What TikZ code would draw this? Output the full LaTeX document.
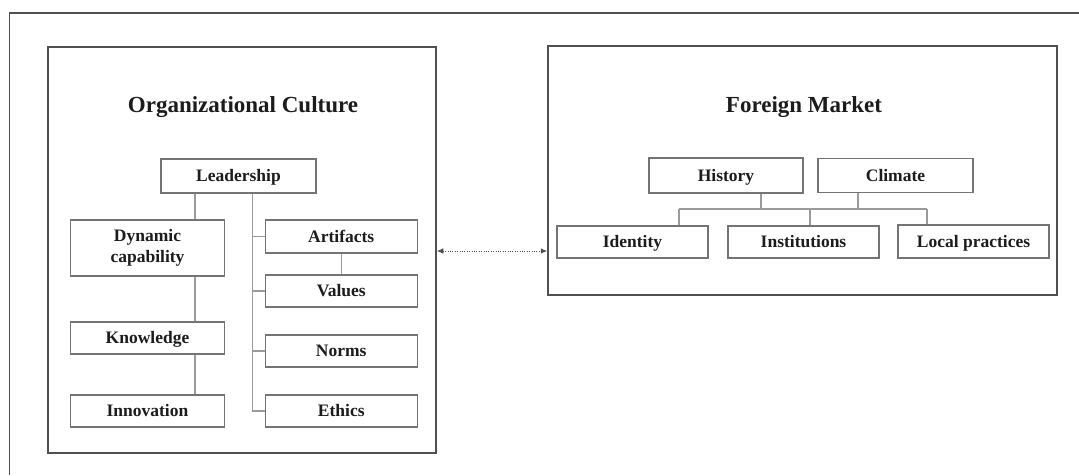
\documentclass[tikz,border=0pt]{standalone}
\usepackage{fontspec}
\setmainfont{Liberation Serif}
\usetikzlibrary{arrows.meta}

\definecolor{framegray}{HTML}{505050}
\definecolor{boxgray}{HTML}{747474}
\definecolor{linkgray}{HTML}{9A9A9A}
\definecolor{inkblack}{HTML}{1C1C1C}

\tikzset{
  panel/.style={draw=framegray, line width=1.5pt, inner sep=0pt},
  paneltitle/.style={anchor=base, inner sep=0pt, text=inkblack,
    font=\fontsize{23}{27}\selectfont\bfseries},
  boxframe/.style={draw=boxgray, line width=1.3pt, fill=white, inner sep=0pt,
    text=inkblack, font=\fontsize{17.5}{21.5}\selectfont\bfseries},
  itembox/.style={boxframe, text height=11.5pt, text depth=0pt},
  twolinebox/.style={boxframe, align=center},
  link/.style={draw=linkgray, line width=1.1pt},
  exchange/.style={draw=framegray, line width=0.9pt, dash pattern=on 1pt off 1.4pt,
    {Latex[length=6.5pt,width=5.5pt]}-{Latex[length=6.5pt,width=5.5pt]}},
}

\begin{document}
\begin{tikzpicture}[x=1pt, y=-1pt]
\useasboundingbox (0,0) rectangle (1079,475);

% open outer frame: top and left edges only
\coordinate (frame-bl) at (9.5,475);
\coordinate (frame-tl) at (9.5,13);
\coordinate (frame-tr) at (1079,13);
\draw[framegray, line width=1.5pt] (frame-bl) -- (frame-tl) -- (frame-tr);

% the two panels
\node[panel, minimum width=388pt, minimum height=406pt] (oc) at (242,250) {};
\node[panel, minimum width=509pt, minimum height=249pt] (fm) at (802.5,170.5) {};

\node[paneltitle] (octitle) at (243,112.5) {Organizational Culture};
\node[paneltitle] (fmtitle) at (804,112.5) {Foreign Market};

% Organizational Culture: items
\node[itembox, minimum width=155pt, minimum height=34pt] (lead) at (238.5,176) {Leadership};
\node[twolinebox, minimum width=154pt, minimum height=56pt] (dyn) at (147.5,248) {Dynamic\\capability};
\node[itembox, minimum width=154pt, minimum height=32pt] (know) at (147.5,338) {Knowledge};
\node[itembox, minimum width=154pt, minimum height=32pt] (innov) at (147.5,411) {Innovation};
\node[itembox, minimum width=152pt, minimum height=33pt] (art) at (341.25,236.5) {Artifacts};
\node[itembox, minimum width=152pt, minimum height=32pt] (val) at (341.25,291) {Values};
\node[itembox, minimum width=152pt, minimum height=32pt] (norms) at (341.25,351) {Norms};
\node[itembox, minimum width=152pt, minimum height=32pt] (ethics) at (341.25,411) {Ethics};

% Organizational Culture: connectors
\coordinate (ltrunk) at (195,0);
\coordinate (spine) at (252.5,0);
\draw[link] (lead.south -| ltrunk) -- (dyn.north -| ltrunk);
\draw[link] (dyn.south -| ltrunk) -- (know.north -| ltrunk);
\draw[link] (know.south -| ltrunk) -- (innov.north -| ltrunk);
\draw[link] (lead.south -| spine) -- (ethics.west -| spine) -- (ethics.west);
\draw[link] (art.west -| spine) -- (art.west);
\draw[link] (val.west -| spine) -- (val.west);
\draw[link] (norms.west -| spine) -- (norms.west);
\draw[link] (art.south) -- (val.north);

% Foreign Market: items
\node[itembox, minimum width=154pt, minimum height=35pt] (hist) at (726,175.5) {History};
\node[itembox, minimum width=155pt, minimum height=34pt] (clim) at (895.5,175.5) {Climate};
\node[itembox, minimum width=151pt, minimum height=32pt] (iden) at (632.5,242) {Identity};
\node[itembox, minimum width=151pt, minimum height=32pt] (inst) at (803.5,242) {Institutions};
\node[itembox, minimum width=151pt, minimum height=33pt] (local) at (973.5,241.5) {Local practices};

% Foreign Market: connectors via a shared bus
\coordinate (hs) at (761,209);
\coordinate (cs) at (858,209);
\coordinate (is) at (679,209);
\coordinate (ns) at (810,209);
\coordinate (ls) at (927,209);
\draw[link] (hist.south -| hs) -- (hs);
\draw[link] (clim.south -| cs) -- (cs);
\draw[link] (is) -- (ls);
\draw[link] (is) -- (iden.north -| is);
\draw[link] (ns) -- (inst.north -| ns);
\draw[link] (ls) -- (local.north -| ls);

% two-way link between the panels
\coordinate (arrowrow) at (0,251);
\draw[exchange] (oc.east |- arrowrow) -- (fm.west |- arrowrow);
\end{tikzpicture}
\end{document}
